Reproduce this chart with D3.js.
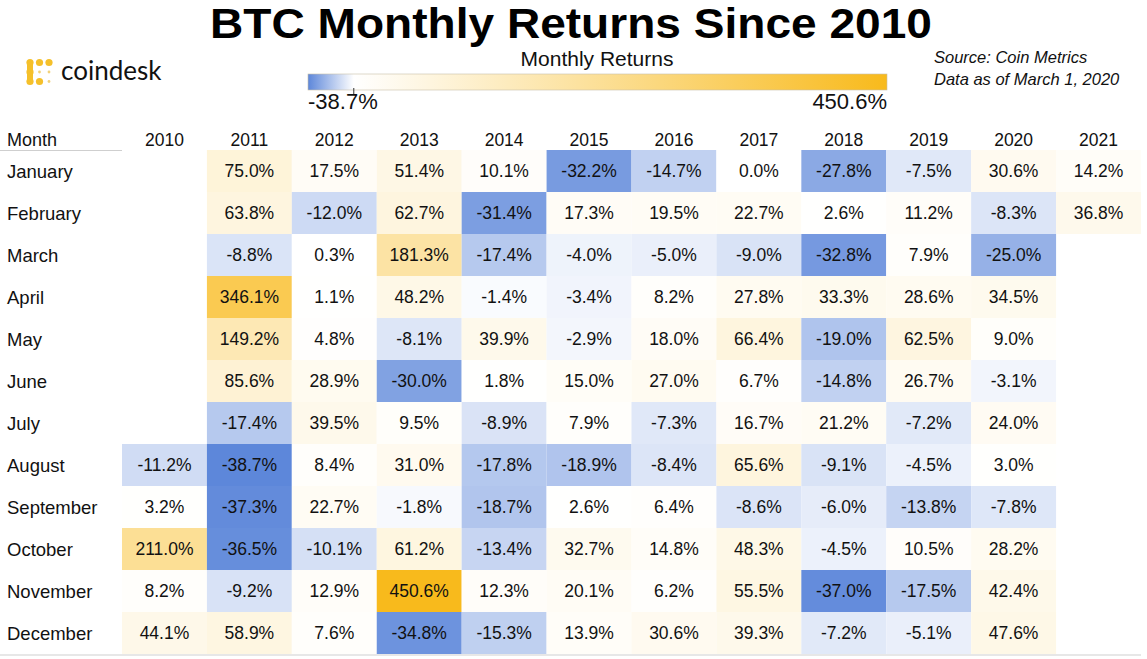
<!DOCTYPE html>
<html><head><meta charset="utf-8">
<script src="https://cdn.jsdelivr.net/npm/d3@7"></script>
<style>
html,body{margin:0;padding:0;background:#fff;}
svg{display:block;font-family:"Liberation Sans",Arial,sans-serif;}
</style></head>
<body>
<svg id="chart" width="1147" height="659"></svg>
<script>
const months = ["January","February","March","April","May","June","July","August","September","October","November","December"];
const years = ["2010","2011","2012","2013","2014","2015","2016","2017","2018","2019","2020","2021"];
const r2010 = [null,null,null,null,null,null,null,-11.2,3.2,211.0,8.2,44.1];
const r2011 = [75.0,63.8,-8.8,346.1,149.2,85.6,-17.4,-38.7,-37.3,-36.5,-9.2,58.9];
const r2012 = [17.5,-12.0,0.3,1.1,4.8,28.9,39.5,8.4,22.7,-10.1,12.9,7.6];
const r2013 = [51.4,62.7,181.3,48.2,-8.1,-30.0,9.5,31.0,-1.8,61.2,450.6,-34.8];
const r2014 = [10.1,-31.4,-17.4,-1.4,39.9,1.8,-8.9,-17.8,-18.7,-13.4,12.3,-15.3];
const r2015 = [-32.2,17.3,-4.0,-3.4,-2.9,15.0,7.9,-18.9,2.6,32.7,20.1,13.9];
const r2016 = [-14.7,19.5,-5.0,8.2,18.0,27.0,-7.3,-8.4,6.4,14.8,6.2,30.6];
const r2017 = [0.0,22.7,-9.0,27.8,66.4,6.7,16.7,65.6,-8.6,48.3,55.5,39.3];
const r2018 = [-27.8,2.6,-32.8,33.3,-19.0,-14.8,21.2,-9.1,-6.0,-4.5,-37.0,-7.2];
const r2019 = [-7.5,11.2,7.9,28.6,62.5,26.7,-7.2,-4.5,-13.8,10.5,-17.5,-5.1];
const r2020 = [30.6,-8.3,-25.0,34.5,9.0,-3.1,24.0,3.0,-7.8,28.2,42.4,47.6];
const r2021 = [14.2,36.8,null,null,null,null,null,null,null,null,null,null];
const seriesByYear = [r2010,r2011,r2012,r2013,r2014,r2015,r2016,r2017,r2018,r2019,r2020,r2021];
const legendMin = -38.7, legendMax = 450.6;

const svg = d3.select("#chart");
const BLUE = "#5d87da", GOLD = "#f8ba1c";

const cells = [];
years.forEach((y, i) => months.forEach((m, j) => {
  const v = seriesByYear[i][j];
  if (v !== null && v !== undefined) cells.push({year: y, month: m, value: v});
}));

const x = d3.scaleBand().domain(years).range([122, 1141]);
const y = d3.scaleBand().domain(months).range([150, 654]);
const color = d3.scaleLinear().domain([legendMin, 0, legendMax]).range([BLUE, "#ffffff", GOLD]).interpolate(d3.interpolateRgb);

// title
svg.append("text").attr("x", 571).attr("y", 38).attr("text-anchor", "middle")
  .attr("font-size", 42).attr("font-weight", "bold").attr("fill", "#000")
  .attr("textLength", 722).attr("lengthAdjust", "spacingAndGlyphs")
  .text("BTC Monthly Returns Since 2010");

// logo
const logo = svg.append("g");
const dots = [[0,0,1],[1,0,1],[2,0,1],[0,1,1],[1,1,0],[2,1,0],[0,2,1],[1,2,1],[2,2,0]];
dots.forEach(([c, r, full]) => {
  logo.append("circle").attr("cx", 30 + c * 9.5).attr("cy", 62.5 + r * 9.5)
    .attr("r", full ? 3.6 : 1.4).attr("fill", full ? "#f5c02a" : "#f2d27a");
});
logo.append("rect").attr("x", 27).attr("y", 62).attr("width", 6).attr("height", 20).attr("fill", "#f5c02a");
logo.append("text").attr("x", 61).attr("y", 80).attr("font-size", 26).attr("fill", "#111")
  .attr("font-family", "Lato, 'Noto Sans', sans-serif").text("coindesk");

// source
svg.append("text").attr("x", 934).attr("y", 63).attr("font-size", 16.5).attr("font-style", "italic").attr("fill", "#111").text("Source: Coin Metrics");
svg.append("text").attr("x", 934).attr("y", 85).attr("font-size", 16.5).attr("font-style", "italic").attr("fill", "#111").text("Data as of March 1, 2020");

// legend
const lx = d3.scaleLinear().domain([legendMin, legendMax]).range([308, 887]);
const defs = svg.append("defs");
const grad = defs.append("linearGradient").attr("id", "lg").attr("x1", "0%").attr("x2", "100%");
const zeroOff = (lx(0) - lx(legendMin)) / (lx(legendMax) - lx(legendMin));
grad.append("stop").attr("offset", "0%").attr("stop-color", BLUE);
grad.append("stop").attr("offset", (zeroOff * 100) + "%").attr("stop-color", "#ffffff");
grad.append("stop").attr("offset", "100%").attr("stop-color", GOLD);
svg.append("text").attr("x", 597).attr("y", 66).attr("text-anchor", "middle").attr("font-size", 21).attr("fill", "#111").text("Monthly Returns");
svg.append("rect").attr("x", lx(legendMin)).attr("y", 74).attr("width", lx(legendMax) - lx(legendMin)).attr("height", 16)
  .attr("fill", "url(#lg)").attr("stroke", "#c8c0a8").attr("stroke-width", 0.6);
svg.append("line").attr("x1", lx(0)).attr("x2", lx(0)).attr("y1", 88).attr("y2", 95).attr("stroke", "#333").attr("stroke-width", 1);
svg.append("text").attr("x", lx(legendMin)).attr("y", 109).attr("font-size", 22).attr("fill", "#111").text(legendMin.toFixed(1) + "%");
svg.append("text").attr("x", lx(legendMax)).attr("y", 109).attr("text-anchor", "end").attr("font-size", 22).attr("fill", "#111").text(legendMax.toFixed(1) + "%");

// header
svg.append("text").attr("x", 7).attr("y", 146).attr("font-size", 18).attr("fill", "#111").text("Month");
svg.append("g").selectAll("text").data(years).join("text")
  .attr("x", d => x(d) + x.bandwidth() / 2).attr("y", 146).attr("text-anchor", "middle")
  .attr("font-size", 17.5).attr("fill", "#111").text(d => d);
svg.append("line").attr("x1", 0).attr("x2", 122).attr("y1", 150.5).attr("y2", 150.5).attr("stroke", "#cfcfcf");

// month labels
svg.append("g").selectAll("text").data(months).join("text")
  .attr("x", 7).attr("y", d => y(d) + y.bandwidth() / 2 + 6.5)
  .attr("font-size", 18.5).attr("fill", "#111").text(d => d);

// cells
svg.append("g").selectAll("rect").data(cells).join("rect")
  .attr("x", d => x(d.year)).attr("y", d => y(d.month))
  .attr("width", x.bandwidth()).attr("height", y.bandwidth())
  .attr("fill", d => color(d.value));
svg.append("g").selectAll("text").data(cells).join("text")
  .attr("x", d => x(d.year) + x.bandwidth() / 2).attr("y", d => y(d.month) + y.bandwidth() / 2 + 6)
  .attr("text-anchor", "middle").attr("font-size", 17.5).attr("fill", "#111")
  .text(d => d.value.toFixed(1) + "%");

svg.append("line").attr("x1", 0).attr("x2", 1141).attr("y1", 655).attr("y2", 655).attr("stroke", "#cfcfcf");
</script>
</body></html>
